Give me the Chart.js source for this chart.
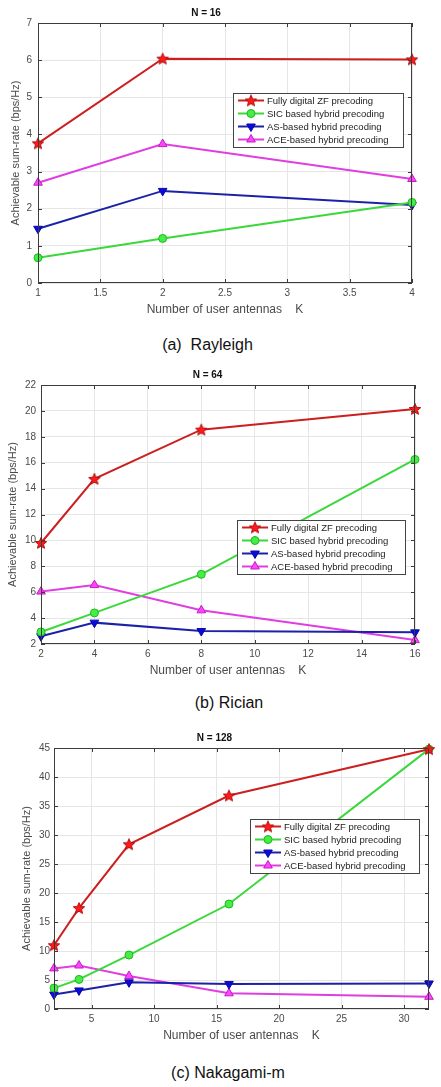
<!DOCTYPE html>
<html>
<head>
<meta charset="utf-8">
<script src="https://cdn.jsdelivr.net/npm/chart.js@4.4.0/dist/chart.umd.min.js"></script>
<style>
  body { margin: 0; width: 441px; height: 1087px; background: #fff; position: relative; overflow: hidden; font-family: "Liberation Sans", Arial, sans-serif; }
  .wrap { position: absolute; left: 0; }
  .cap { position: absolute; left: 0; font-size: 16px; line-height: 20px; text-align: center; color: #111; }
</style>
</head>
<body>
<div class="wrap" style="top:0px"><canvas id="c1" width="441" height="320"></canvas></div>
<div class="cap" style="top:335px;width:415px">(a)&nbsp; Rayleigh</div>
<div class="wrap" style="top:360px"><canvas id="c2" width="441" height="321"></canvas></div>
<div class="cap" style="top:693px;width:458px">(b) Rician</div>
<div class="wrap" style="top:723px"><canvas id="c3" width="441" height="323"></canvas></div>
<div class="cap" style="top:1063px;width:456px">(c) Nakagami-m</div>
<script>
'use strict';
// noms des séries
const seriesNames = ['Fully digital ZF precoding', 'SIC based hybrid precoding', 'AS-based hybrid precoding', 'ACE-based hybrid precoding'];

// (a) Rayleigh, N = 16
const kRayleigh = [1, 2, 4];
const zfRayleigh = [3.76, 6.04, 6.02];
const sicRayleigh = [0.68, 1.2, 2.17];
const asRayleigh = [1.46, 2.48, 2.1];
const aceRayleigh = [2.7, 3.74, 2.8];
const xTicksRayleigh = [1, 1.5, 2, 2.5, 3, 3.5, 4];
const yTicksRayleigh = [0, 1, 2, 3, 4, 5, 6, 7];

// (b) Rician, N = 64
const kRician = [2, 4, 8, 16];
const zfRician = [9.8, 14.75, 18.55, 20.15];
const sicRician = [2.93, 4.4, 7.38, 16.25];
const asRician = [2.6, 3.65, 3.0, 2.9];
const aceRician = [6.05, 6.55, 4.6, 2.3];
const xTicksRician = [2, 4, 6, 8, 10, 12, 14, 16];
const yTicksRician = [2, 4, 6, 8, 10, 12, 14, 16, 18, 20, 22];

// (c) Nakagami-m, N = 128
const kNakagami = [2, 4, 8, 16, 32];
const zfNakagami = [11.0, 17.4, 28.4, 36.8, 44.8];
const sicNakagami = [3.6, 5.1, 9.3, 18.1, 44.8];
const asNakagami = [2.5, 3.2, 4.6, 4.3, 4.4];
const aceNakagami = [7.0, 7.5, 5.7, 2.7, 2.1];
const xTicksNakagami = [5, 10, 15, 20, 25, 30];
const yTicksNakagami = [0, 5, 10, 15, 20, 25, 30, 35, 40, 45];

//étoile à 5 branches pour les marqueurs
function starImage(size, fill, stroke) {
    const c = document.createElement('canvas');
    c.width = size; c.height = size;
    const g = c.getContext('2d');
    const r = size / 2 - 1, ri = r * 0.45, cx = size / 2, cy = size / 2 + 0.5;
    g.beginPath();
    for (let i = 0; i < 10; i++) {
        const rad = i % 2 ? ri : r;
        const a = -Math.PI / 2 + i * Math.PI / 5;
        g.lineTo(cx + rad * Math.cos(a), cy + rad * Math.sin(a));
    }
    g.closePath();
    g.fillStyle = fill; g.fill();
    g.strokeStyle = stroke; g.lineWidth = 1; g.stroke();
    return c;
}

const star = starImage(14, '#ff1a1a', '#b01010');

const styles = [
    { borderColor: '#cc1f1f', pointBackgroundColor: '#ff1a1a', pointBorderColor: '#b01010', pointStyle: star, pointRadius: 7, pointRotation: 0 },
    { borderColor: '#3ad83a', pointBackgroundColor: '#44ee44', pointBorderColor: '#22b422', pointStyle: 'circle', pointRadius: 4, pointRotation: 0 },
    { borderColor: '#1c22a8', pointBackgroundColor: '#0a0ae0', pointBorderColor: '#0a0aa0', pointStyle: 'triangle', pointRadius: 5, pointRotation: 180 },
    { borderColor: '#e03ee0', pointBackgroundColor: '#ff44ff', pointBorderColor: '#c020c0', pointStyle: 'triangle', pointRadius: 5, pointRotation: 0 }
];

const fontFamily = '"Liberation Sans", Arial, sans-serif';

//plugin : cadre, petites graduations et légende dans le graphique
const boxLegend = {
    id: 'boxLegend',
    afterDraw(chart, args, opts) {
        const { ctx, chartArea: a } = chart;
        ctx.save();
        ctx.strokeStyle = '#3c3c3c';
        ctx.lineWidth = 1;
        ctx.strokeRect(Math.round(a.left) + 0.5, Math.round(a.top) + 0.5, Math.round(a.right - a.left) - 1, Math.round(a.bottom - a.top) - 1);
        //graduations vers l'intérieur
        ctx.beginPath();
        chart.scales.x.ticks.forEach(t => {
            const px = Math.round(chart.scales.x.getPixelForValue(t.value)) + 0.5;
            ctx.moveTo(px, a.bottom); ctx.lineTo(px, a.bottom - 4);
            ctx.moveTo(px, a.top); ctx.lineTo(px, a.top + 4);
        });
        chart.scales.y.ticks.forEach(t => {
            const py = Math.round(chart.scales.y.getPixelForValue(t.value)) + 0.5;
            ctx.moveTo(a.left, py); ctx.lineTo(a.left + 4, py);
            ctx.moveTo(a.right, py); ctx.lineTo(a.right - 4, py);
        });
        ctx.stroke();
        //légende
        const x = a.left + opts.x, y = a.top + opts.y, w = opts.w, rowH = 13, h = rowH * 4 + 2;
        ctx.fillStyle = '#fff';
        ctx.fillRect(x, y, w, h);
        ctx.strokeStyle = '#444';
        ctx.strokeRect(x + 0.5, y + 0.5, w, h);
        ctx.font = '9.5px ' + fontFamily;
        ctx.textBaseline = 'middle';
        chart.data.datasets.forEach((ds, i) => {
            const cy = y + 1 + rowH * i + rowH / 2;
            ctx.strokeStyle = ds.borderColor;
            ctx.lineWidth = 2;
            ctx.beginPath(); ctx.moveTo(x + 5, cy); ctx.lineTo(x + 31, cy); ctx.stroke();
            ctx.fillStyle = ds.pointBackgroundColor;
            ctx.strokeStyle = ds.pointBorderColor;
            ctx.lineWidth = 1;
            Chart.helpers.drawPoint(ctx, { pointStyle: ds.pointStyle, radius: ds.pointRadius, rotation: ds.pointRotation, borderWidth: 1 }, x + 18, cy);
            ctx.fillStyle = '#222';
            ctx.fillText(ds.label, x + 34, cy + 0.5);
        });
        ctx.restore();
    }
};

//fonction pour créer un graphique
function creerChart(id, title, k, series, xTicks, yTicks, lay) {
    const datasets = series.map((vals, i) => Object.assign({
        label: seriesNames[i],
        data: k.map((x, j) => ({ x: x, y: vals[j] })),
        borderWidth: 2,
        pointBorderWidth: 1,
        clip: false,
        tension: 0
    }, styles[i]));
    const tickFont = { family: fontFamily, size: 10 };
    new Chart(document.getElementById(id).getContext('2d'), {
        type: 'line',
        data: { datasets: datasets },
        options: {
            responsive: false,
            animation: false,
            layout: { padding: { top: lay.top, right: lay.right, bottom: 0, left: 0 } },
            plugins: {
                legend: { display: false },
                tooltip: { enabled: false },
                title: { display: true, text: title, color: '#111', font: { family: fontFamily, size: 10, weight: 'bold' }, padding: { top: 0, bottom: 4 } },
                boxLegend: lay.legend
            },
            scales: {
                x: {
                    type: 'linear', min: lay.xMin, max: lay.xMax,
                    afterBuildTicks: s => { s.ticks = xTicks.map(v => ({ value: v })); },
                    afterFit: s => { s.height = 37; },
                    grid: { color: '#e6e6e6', drawTicks: false },
                    border: { display: false },
                    ticks: { padding: 4, color: '#4a4a4a', font: tickFont, callback: v => String(v) },
                    title: { display: true, text: 'Number of user antennas    K', color: '#4a4a4a', font: { family: fontFamily, size: 12 }, padding: { top: 0, bottom: 3 } }
                },
                y: {
                    type: 'linear', min: yTicks[0], max: yTicks[yTicks.length - 1],
                    afterBuildTicks: s => { s.ticks = yTicks.map(v => ({ value: v })); },
                    afterFit: s => { s.width = lay.left; },
                    grid: { color: '#e6e6e6', drawTicks: false },
                    border: { display: false },
                    ticks: { padding: lay.tickPad, color: '#4a4a4a', font: tickFont, callback: v => String(v) },
                    title: { display: true, text: 'Achievable sum-rate (bps/Hz)', color: '#4a4a4a', font: { family: fontFamily, size: 11 }, padding: { top: lay.yTitlePad, bottom: 0 } }
                }
            }
        },
        plugins: [boxLegend]
    });
}

creerChart('c1', 'N = 16', kRayleigh, [zfRayleigh, sicRayleigh, asRayleigh, aceRayleigh], xTicksRayleigh, yTicksRayleigh,
    { top: 7, right: 29, left: 38, xMin: 1, xMax: 4, tickPad: 6, yTitlePad: 9, legend: { x: 195, y: 70, w: 170 } });
creerChart('c2', 'N = 64', kRician, [zfRician, sicRician, asRician, aceRician], xTicksRician, yTicksRician,
    { top: 9, right: 26, left: 41, xMin: 2, xMax: 16, tickPad: 5, yTitlePad: 6, legend: { x: 196, y: 135, w: 168 } });
creerChart('c3', 'N = 128', kNakagami, [zfNakagami, sicNakagami, asNakagami, aceNakagami], xTicksNakagami, yTicksNakagami,
    { top: 9, right: 12, left: 54, xMin: 2, xMax: 32, tickPad: 4, yTitlePad: 20, legend: { x: 196, y: 71, w: 169 } });
</script>
</body>
</html>
